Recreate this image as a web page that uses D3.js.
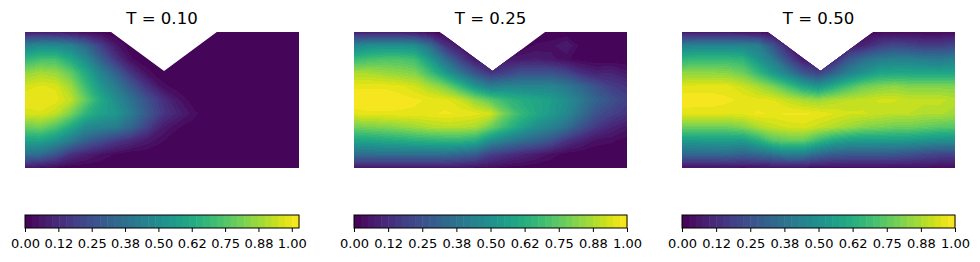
<html>
<head>
<script type="text/javascript" src="https://cdn.jsdelivr.net/npm/d3@7"></script>
<style>
	html, body { margin: 0; padding: 0; background: #fff; }
	text { font-family: "DejaVu Sans"; fill: #000; }
</style>
</head>
<body>
<script type="text/javascript">

//values, rows top to bottom, columns left to right
var fieldT10 = [
	[.08,.08,.07,.05,.03,.01,0,0,0,0,0,0,0,0,0,0,0,0,0],
	[.45,.49,.49,.45,.34,.19,.06,0,0,0,0,0,0,0,0,0,0,0,0],
	[.67,.72,.72,.62,.49,.31,.15,.03,0,0,0,0,0,0,0,0,0,0,0],
	[.85,.89,.87,.78,.62,.45,.31,.15,.04,0,0,0,0,0,0,0,0,0,0],
	[.96,.98,.97,.88,.70,.54,.42,.28,.15,.04,.01,0,0,0,0,0,0,0,0],
	[1.0,1.0,.99,.93,.78,.62,.50,.38,.26,.15,.06,.01,0,0,0,0,0,0,0],
	[.96,.97,.93,.82,.67,.58,.54,.42,.29,.17,.10,.04,0,0,0,0,0,0,0],
	[.79,.81,.74,.62,.49,.45,.42,.33,.20,.08,.03,.01,0,0,0,0,0,0,0],
	[.59,.59,.52,.42,.31,.24,.17,.12,.07,.03,0,0,0,0,0,0,0,0,0],
	[.38,.36,.27,.15,.09,.05,.02,0,0,0,0,0,0,0,0,0,0,0,0],
	[.06,.04,.02,0,0,0,0,0,0,0,0,0,0,0,0,0,0,0,0]
];

var fieldT25 = [
	[.08,.08,.08,.08,.06,.03,0,0,0,0,0,0,0,0,0,0,0,0,0],
	[.45,.49,.50,.50,.49,.36,.15,.06,.03,0,0,0,.03,.04,.08,.01,0,0,0],
	[.67,.70,.72,.72,.69,.54,.36,.19,.06,.06,.06,.07,.08,.06,.03,.01,0,0,0],
	[.87,.87,.85,.83,.81,.69,.54,.39,.25,.15,.19,.25,.25,.25,.21,.13,.09,.10,.06],
	[.97,.97,.97,.96,.93,.87,.80,.67,.52,.42,.45,.45,.45,.45,.40,.33,.25,.18,.15],
	[1.0,1.0,1.0,.99,.98,.97,.96,.92,.83,.75,.67,.62,.59,.55,.49,.40,.31,.25,.19],
	[.96,.97,.97,.97,.97,.97,.98,.97,.96,.93,.78,.67,.60,.54,.47,.36,.25,.19,.15],
	[.78,.80,.81,.83,.85,.88,.89,.89,.87,.78,.67,.58,.49,.44,.36,.25,.16,.10,.06],
	[.58,.58,.60,.61,.63,.64,.65,.65,.62,.49,.42,.36,.31,.25,.15,.09,.04,.03,.01],
	[.36,.36,.36,.36,.36,.36,.36,.33,.29,.19,.15,.11,.08,.04,.01,0,0,0,0],
	[.06,.06,.06,.06,.06,.06,.06,.05,.04,.03,.01,.01,0,0,0,0,0,0,0]
];

var fieldT50 = [
	[.06,.06,.06,.06,.05,.04,.03,0,0,0,0,0,.02,.02,.02,.02,.02,.02,.03],
	[.43,.45,.45,.45,.45,.43,.25,.09,0,0,0,.06,.10,.18,.22,.20,.18,.18,.21],
	[.65,.67,.67,.67,.65,.52,.41,.22,.06,.04,.10,.27,.36,.41,.43,.43,.41,.40,.43],
	[.83,.83,.83,.82,.78,.67,.54,.42,.27,.19,.31,.43,.51,.58,.59,.59,.58,.58,.59],
	[.95,.96,.96,.96,.92,.87,.80,.70,.59,.52,.62,.71,.78,.81,.83,.81,.81,.81,.81],
	[1.0,.99,.99,.98,.97,.96,.95,.91,.87,.85,.88,.90,.91,.93,.93,.91,.91,.91,.89],
	[.96,.96,.96,.96,.96,.98,.97,.98,.98,.97,.95,.93,.93,.91,.90,.90,.88,.88,.86],
	[.78,.78,.78,.78,.81,.87,.91,.93,.94,.91,.88,.85,.81,.80,.78,.78,.76,.74,.73],
	[.54,.54,.55,.55,.54,.62,.73,.76,.76,.67,.59,.55,.54,.54,.54,.53,.51,.49,.49],
	[.33,.33,.33,.34,.31,.34,.38,.43,.42,.34,.29,.28,.28,.28,.27,.25,.22,.20,.20],
	[.04,.04,.04,.04,.04,.04,.04,.04,.04,.03,.03,.03,.03,.03,.03,.03,.03,.03,.03]
];

var fields = [fieldT10, fieldT25, fieldT50];
var titles = ['T = 0.10', 'T = 0.25', 'T = 0.50'];
var levelMax = [1.027, 1, 1];
var tickValues = [0, 0.125, 0.25, 0.375, 0.5, 0.625, 0.75, 0.875, 1];
var tickLabels = ['0.00', '0.12', '0.25', '0.38', '0.50', '0.62', '0.75', '0.88', '1.00'];

//outline of the domain, the notch cuts into the top edge
var outlineX = [0, 0.628, 1.015, 1.4, 2, 2, 0];
var outlineY = [1, 1, 0.713, 1, 1, 0, 0];

var bandCount = 40,
	panelLeft = [25, 354, 682],
	panelRight = [299, 627, 955],
	panelTop = 32,
	panelHeight = 136,
	barTop = 215,
	barHeight = 13;

var svg = d3.select('body').append('svg')
	.attr('width', 980)
	.attr('height', 262)
	.style('display', 'block');

fields.forEach(function(field, p) {
	var rows = field.length,
		cols = field[0].length,
		left = panelLeft[p],
		right = panelRight[p];

	var x = d3.scaleLinear().domain([0, 2]).range([left, right]),
		y = d3.scaleLinear().domain([0, 1]).range([panelTop + panelHeight, panelTop]),
		col = d3.scaleLinear().domain([0, cols - 1]).range([left, right]),
		row = d3.scaleLinear().domain([0, rows - 1]).range([panelTop, panelTop + panelHeight]);

	var levels = d3.range(bandCount).map(function(i) {
			return i * levelMax[p] / bandCount;
		}),
		color = function(i) {
			return d3.interpolateViridis((i + 0.5) / bandCount);
		};

	svg.append('clipPath')
		.attr('id', 'domain' + p)
		.append('polygon')
		.attr('shape-rendering', 'crispEdges')
		.attr('points', outlineX.map(function(d, i) {
			return x(d) + ',' + y(outlineY[i]);
		}).join(' '));

	var contours = d3.contours()
		.size([cols, rows])
		.thresholds(levels)(d3.merge(field));

	//contour coordinates have cell centres at +0.5
	var path = d3.geoPath(d3.geoTransform({
		point: function(px, py) {
			this.stream.point(col(px - 0.5), row(py - 0.5));
		}
	}));

	svg.append('g')
		.attr('clip-path', 'url(#domain' + p + ')')
		.selectAll('path')
		.data(contours)
		.enter().append('path')
		.attr('d', path)
		.attr('shape-rendering', 'crispEdges')
		.attr('fill', function(d, i) { return color(i); });

	svg.append('text')
		.attr('x', (left + right) / 2)
		.attr('y', 24)
		.attr('text-anchor', 'middle')
		.style('font-size', '16.6px')
		.text(titles[p]);

	//colorbar
	var bar = d3.scaleLinear().domain([0, levelMax[p]]).range([left, right]);

	svg.append('g').selectAll('rect')
		.data(levels)
		.enter().append('rect')
		.attr('x', function(d) { return bar(d); })
		.attr('y', barTop)
		.attr('width', bar(levels[1]) - bar(0) + 0.5)
		.attr('height', barHeight)
		.attr('fill', function(d, i) { return color(i); });

	svg.append('rect')
		.attr('x', left)
		.attr('y', barTop)
		.attr('width', right - left)
		.attr('height', barHeight)
		.attr('fill', 'none')
		.attr('stroke', '#000')
		.attr('stroke-width', 1);

	var axis = d3.axisBottom(bar)
		.tickValues(tickValues)
		.tickSize(4)
		.tickPadding(7)
		.tickFormat(function(d, i) { return tickLabels[i]; });

	var g = svg.append('g')
		.attr('transform', 'translate(0,' + (barTop + barHeight) + ')')
		.call(axis);

	g.select('.domain').remove();
	g.selectAll('text')
		.attr('font-family', null)
		.style('font-size', '13px');
});

</script>
</body>
</html>
